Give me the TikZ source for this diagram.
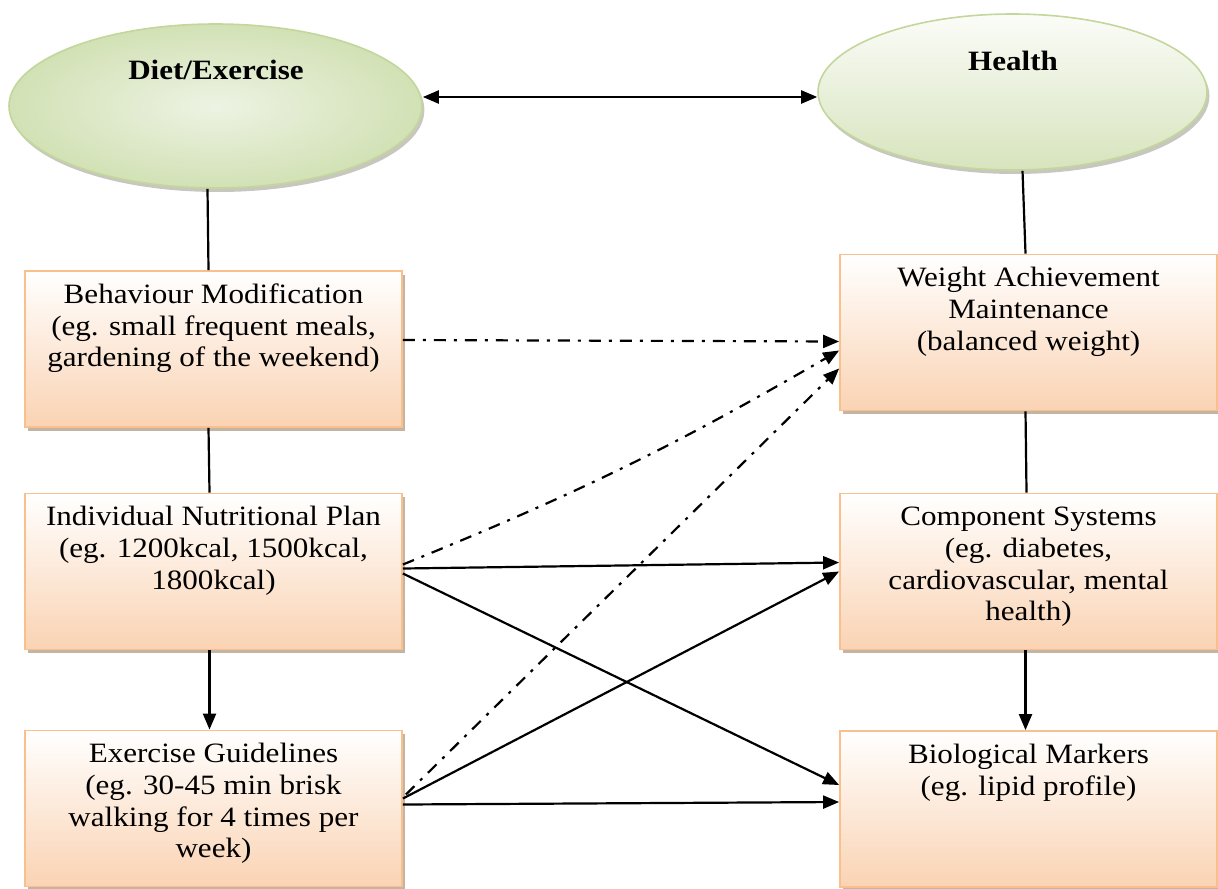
\documentclass[tikz,border=0pt]{standalone}
\usepackage{fontspec}
\setmainfont{Liberation Serif}
\newfontfamily\widefont[FakeStretch=1.11]{Liberation Serif}
\usetikzlibrary{arrows.meta,shapes.geometric,shadows,calc}

\definecolor{peach}{HTML}{FAD3B3}
\definecolor{peachline}{HTML}{F9C08E}
\definecolor{boxshadow}{HTML}{C4B4A4}
\definecolor{leafin}{HTML}{EDF3E3}
\definecolor{leafout}{HTML}{D2E1B5}
\definecolor{leafline}{HTML}{C3D69B}
\definecolor{leaftop}{HTML}{FBFCF8}
\definecolor{leafbottom}{HTML}{D7E4BD}
\definecolor{ovalshadow}{HTML}{B9B9B0}

% text of a stage box, set from the top edge down
\newcommand{\boxtext}[1]{\parbox[c][78pt][t]{186pt}{\centering\widefont\fontsize{14}{15.8}\selectfont\rule{0pt}{16.2pt}#1}}

\begin{document}
\begin{tikzpicture}[x=0.5pt,y=-0.5pt,
  stage/.style={draw=peachline, line width=0.9pt, top color=white, bottom color=peach,
    inner sep=0pt, minimum width=188.5pt, minimum height=78pt,
    drop shadow={shadow xshift=1.6pt, shadow yshift=-1.8pt, fill=boxshadow, opacity=1}},
  oval/.style={ellipse, draw=leafline, line width=0.8pt, inner sep=0pt,
    drop shadow={shadow xshift=1.2pt, shadow yshift=-2pt, fill=ovalshadow, opacity=0.8}},
  title/.style={anchor=base, font=\widefont\bfseries\fontsize{14}{16}\selectfont},
  link/.style={line width=1.1pt},
  arrow/.style={link, -{Triangle[length=8pt,width=6.5pt]}},
  dashlink/.style={arrow, dash pattern=on 6pt off 4pt on 1.5pt off 4pt}]

\useasboundingbox (0,0) rectangle (1218,888);

% the two domains
\node[oval, minimum width=206.5pt, minimum height=82pt, shading=radial,
      inner color=leafin, outer color=leafout] (diet) at (215.5,106) {};
\node[oval, minimum width=194.5pt, minimum height=78pt,
      top color=leaftop, bottom color=leafbottom] (health) at (1012.5,92) {};
\node[title] (dietlabel) at (216,80) {Diet/Exercise};
\node[title] (healthlabel) at (1013,70) {Health};

% left column
\node[stage] (behav) at (213.5,349)
  {\boxtext{Behaviour Modification\\(eg. small frequent meals,\\gardening of the weekend)}};
\node[stage] (nutri) at (213.5,571.5)
  {\boxtext{Individual Nutritional Plan\\(eg. 1200kcal, 1500kcal,\\1800kcal)}};
\node[stage] (exer) at (213.5,808.5)
  {\boxtext{Exercise Guidelines\\(eg. 30-45 min brisk\\walking for 4 times per\\week)}};

% right column
\node[stage] (weight) at (1028.5,332.5)
  {\boxtext{Weight Achievement\\Maintenance\\(balanced weight)}};
\node[stage] (comp) at (1028.5,571.5)
  {\boxtext{Component Systems\\(eg. diabetes,\\cardiovascular, mental\\health)}};
\node[stage] (bio) at (1028.5,809)
  {\boxtext{Biological Markers\\(eg. lipid profile)}};

% link between the domains
\draw[link, {Triangle[length=8pt,width=6.5pt]}-{Triangle[length=8pt,width=6.5pt]}]
  ($(diet.east)+(0,-9)$) -- ($(health.west)+(0,5)$);

% vertical chains
\draw[link] ($(diet.south)+(-8,0)$) -- ($(behav.north)+(-5,0)$);
\draw[link] ($(behav.south)+(-5,0)$) -- ($(nutri.north)+(-4,0)$);
\draw[arrow] ($(nutri.south)+(-4,0)$) -- ($(exer.north)+(-4,0)$);
\draw[link] ($(health.south)+(10,0)$) -- ($(weight.north)+(-3,0)$);
\draw[link] ($(weight.south)+(-3,0)$) -- ($(comp.north)+(-2,0)$);
\draw[arrow] ($(comp.south)+(-3,0)$) -- ($(bio.north)+(-3,0)$);

% cross links
\draw[dashlink] ($(behav.east)+(0,-9)$) -- ($(weight.west)+(0,9)$);
\draw[dashlink] ($(nutri.east)+(0,-7)$) to[bend right=4] ($(weight.west)+(0,18)$);
\draw[dashlink] ($(exer.east)+(3,-14)$) -- ($(weight.west)+(0,36)$);
\draw[arrow] ($(nutri.east)+(0,-3)$) -- ($(comp.west)+(0,-9)$);
\draw[arrow] ($(nutri.east)+(0,2)$) -- ($(bio.west)+(0,-24)$);
\draw[arrow] ($(exer.east)+(0,-10)$) -- ($(comp.west)+(0,0)$);
\draw[arrow] ($(exer.east)+(0,-4)$) -- ($(bio.west)+(0,-7)$);
\end{tikzpicture}
\end{document}
